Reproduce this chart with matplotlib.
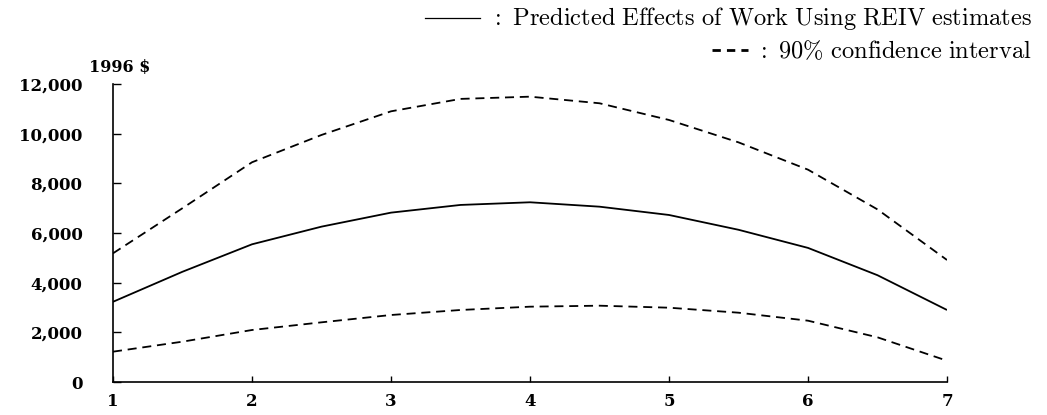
import matplotlib
matplotlib.use("Agg")
import matplotlib.pyplot as plt
from matplotlib.lines import Line2D

plt.rcParams['mathtext.fontset'] = 'cm'

# Data
years = [1, 1.5, 2, 2.5, 3, 3.5, 4, 4.5, 5, 5.5, 6, 6.5, 7]
effect = [3230, 4440, 5545, 6256, 6820, 7130, 7237, 7060, 6726, 6130, 5400, 4300, 2900]
upper = [5182, 7000, 8848, 9948, 10900, 11400, 11490, 11224, 10552, 9650, 8550, 6950, 4913]
lower = [1221, 1624, 2094, 2403, 2698, 2900, 3033, 3073, 2992, 2791, 2469, 1799, 858]
xticks = [1, 2, 3, 4, 5, 6, 7]
yticks = [0, 2000, 4000, 6000, 8000, 10000, 12000]
ytick_labels = ['0', '2,000', '4,000', '6,000', '8,000', '10,000', '12,000']

W, H = 1047, 415
fig = plt.figure(figsize=(W / 100, H / 100), dpi=100)
ax = fig.add_axes([113 / W, 33 / H, 834 / W, 298 / H])

dash = (0, (5.0, 3.2))
ax.plot(years, effect, color='black', lw=1.3, solid_capstyle='butt')
ax.plot(years, upper, color='black', lw=1.3, linestyle=dash)
ax.plot(years, lower, color='black', lw=1.3, linestyle=dash)

ax.set_xlim(1, 7)
ax.set_ylim(0, 12000)
ax.set_xticks(xticks)
ax.set_xticklabels([str(v) for v in xticks])
ax.set_yticks(yticks)
ax.set_yticklabels(ytick_labels)

for s in ['top', 'right']:
    ax.spines[s].set_visible(False)
for s in ['left', 'bottom']:
    ax.spines[s].set_linewidth(1.2)

ax.tick_params(axis='y', direction='in', length=6, width=1, pad=22)
ax.tick_params(axis='x', direction='in', length=4, width=1, pad=8)
for lab in ax.get_xticklabels() + ax.get_yticklabels():
    lab.set_fontfamily('DejaVu Serif')
    lab.set_fontweight('bold')
    lab.set_fontsize(12)

def fx(px):
    return px / W

def fy(py):
    return 1 - py / H

fig.text(fx(120), fy(72), '1996 $', family='DejaVu Serif', weight='bold',
         size=11.5, ha='center', va='baseline')

# legend-like annotation
t1 = fig.text(fx(1032), fy(25),
              r'$\mathrm{:\ Predicted\ Effects\ of\ Work\ Using\ REIV\ estimates}$',
              size=17.6, ha='right', va='baseline')
t2 = fig.text(fx(1032), fy(58), r'$\mathrm{:\ 90\%\ confidence\ interval}$',
              size=17.6, ha='right', va='baseline')

fig.canvas.draw()
r = fig.canvas.get_renderer()
b1 = t1.get_window_extent(r)
b2 = t2.get_window_extent(r)
x1 = b1.x0 - 10
x2 = b2.x0 - 8
fig.add_artist(Line2D([(x1 - 55) / W, x1 / W], [fy(18), fy(18)], transform=fig.transFigure,
                      color='black', lw=0.9))
fig.add_artist(Line2D([(x2 - 36) / W, x2 / W], [fy(50), fy(50)], transform=fig.transFigure,
                      color='black', lw=2.0, linestyle=(0, (3.0, 2.2))))

fig.savefig('out.png', dpi=100)
